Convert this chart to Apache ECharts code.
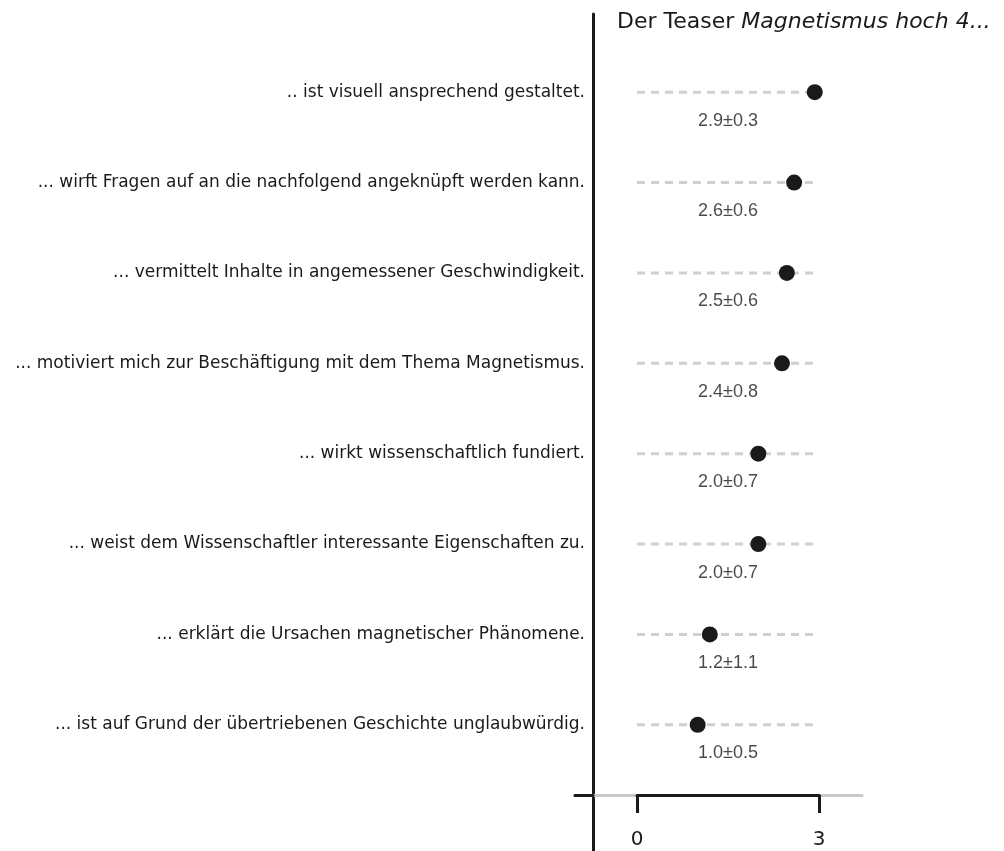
<!DOCTYPE html>
<html><head><meta charset="utf-8">
<script src="https://cdn.jsdelivr.net/npm/echarts@6/dist/echarts.min.js"></script>
<style>html,body{margin:0;padding:0;background:#fff}#c{width:1004px;height:851px}</style>
</head><body><div id="c"></div>
<script>
const categories = [
  ".. ist visuell ansprechend gestaltet.",
  "... wirft Fragen auf an die nachfolgend angeknüpft werden kann.",
  "... vermittelt Inhalte in angemessener Geschwindigkeit.",
  "... motiviert mich zur Beschäftigung mit dem Thema Magnetismus.",
  "... wirkt wissenschaftlich fundiert.",
  "... weist dem Wissenschaftler interessante Eigenschaften zu.",
  "... erklärt die Ursachen magnetischer Phänomene.",
  "... ist auf Grund der übertriebenen Geschichte unglaubwürdig."
];
const means = [2.93, 2.59, 2.47, 2.39, 2.0, 2.0, 1.2, 1.0];
const valueLabels = ["2.9±0.3","2.6±0.6","2.5±0.6","2.4±0.8","2.0±0.7","2.0±0.7","1.2±1.1","1.0±0.5"];
const scaleMin = 0, scaleMax = 3;
const labelPos = 1.5;

const labelFont = "DejaVu Sans";
const chart = echarts.init(document.getElementById('c'));

const dashSeries = categories.map(c => ({
  type: 'line', xAxisIndex: 2, yAxisIndex: 2, silent: true, symbol: 'none',
  data: [[scaleMin, c], [scaleMax, c]],
  lineStyle: { color: '#cfcfcf', width: 3, type: [8, 6] }, z: 2
}));

const plainX = (gridIndex, color) => ({
  gridIndex, type: 'value', offset: 25,
  axisLine: { show: true, onZero: false, lineStyle: { color, width: 3 } },
  axisTick: { show: false }, axisLabel: { show: false }, splitLine: { show: false }
});

chart.setOption({
  animation: false,
  title: {
    left: 612, top: 6,
    text: '{n|Der Teaser }{i|Magnetismus hoch 4...}',
    textStyle: { fontWeight: 'normal', rich: {
      n: { fontFamily: labelFont, fontSize: 22, fontWeight: 'normal', color: '#1a1a1a' },
      i: { fontFamily: labelFont, fontSize: 22, fontWeight: 'normal', fontStyle: 'italic', color: '#1a1a1a' }
    } }
  },
  grid: [
    { left: 593, width: 1, top: 14, bottom: 0 },        // vertical divider
    { left: 575, right: 142, top: 47, bottom: 81 },     // gray baseline
    { left: 637, right: 185, top: 47, bottom: 81 },     // data
    { left: 575, width: 18, top: 47, bottom: 81 }       // black stub
  ],
  xAxis: [
    { gridIndex: 0, type: 'value', show: false },
    plainX(1, '#c8c8c8'),
    { gridIndex: 2, type: 'value', min: scaleMin, max: scaleMax, interval: 3, offset: 25,
      axisLine: { show: true, onZero: false, lineStyle: { color: '#1a1a1a', width: 3 } },
      axisTick: { show: true, length: 18, lineStyle: { color: '#1a1a1a', width: 3 } },
      axisLabel: { fontFamily: labelFont, fontSize: 20, color: '#1a1a1a', margin: 35 },
      splitLine: { show: false } },
    plainX(3, '#1a1a1a')
  ],
  yAxis: [
    { gridIndex: 0, type: 'value', axisLine: { show: true, lineStyle: { color: '#1a1a1a', width: 3 } }, axisTick: { show: false }, axisLabel: { show: false }, splitLine: { show: false } },
    { gridIndex: 1, type: 'value', show: false },
    { gridIndex: 2, type: 'category', data: categories, inverse: true,
      axisLine: { show: false }, axisTick: { show: false }, splitLine: { show: false },
      axisLabel: { fontFamily: labelFont, fontSize: 17, color: '#1a1a1a', margin: 52 } },
    { gridIndex: 3, type: 'value', show: false }
  ],
  series: [
    ...dashSeries,
    { type: 'scatter', xAxisIndex: 2, yAxisIndex: 2, symbolSize: 16, z: 5,
      itemStyle: { color: '#1a1a1a', opacity: 1 },
      data: categories.map((c, i) => [means[i], c]) },
    { type: 'scatter', xAxisIndex: 2, yAxisIndex: 2, symbolSize: 1, silent: true, z: 5,
      itemStyle: { color: 'rgba(0,0,0,0)' },
      label: { show: true, position: 'bottom', distance: 19, formatter: p => valueLabels[p.dataIndex],
        fontFamily: 'Liberation Sans', fontSize: 18, color: '#1a1a1a' },
      data: categories.map(c => [labelPos, c]) }
  ]
});
</script></body></html>
